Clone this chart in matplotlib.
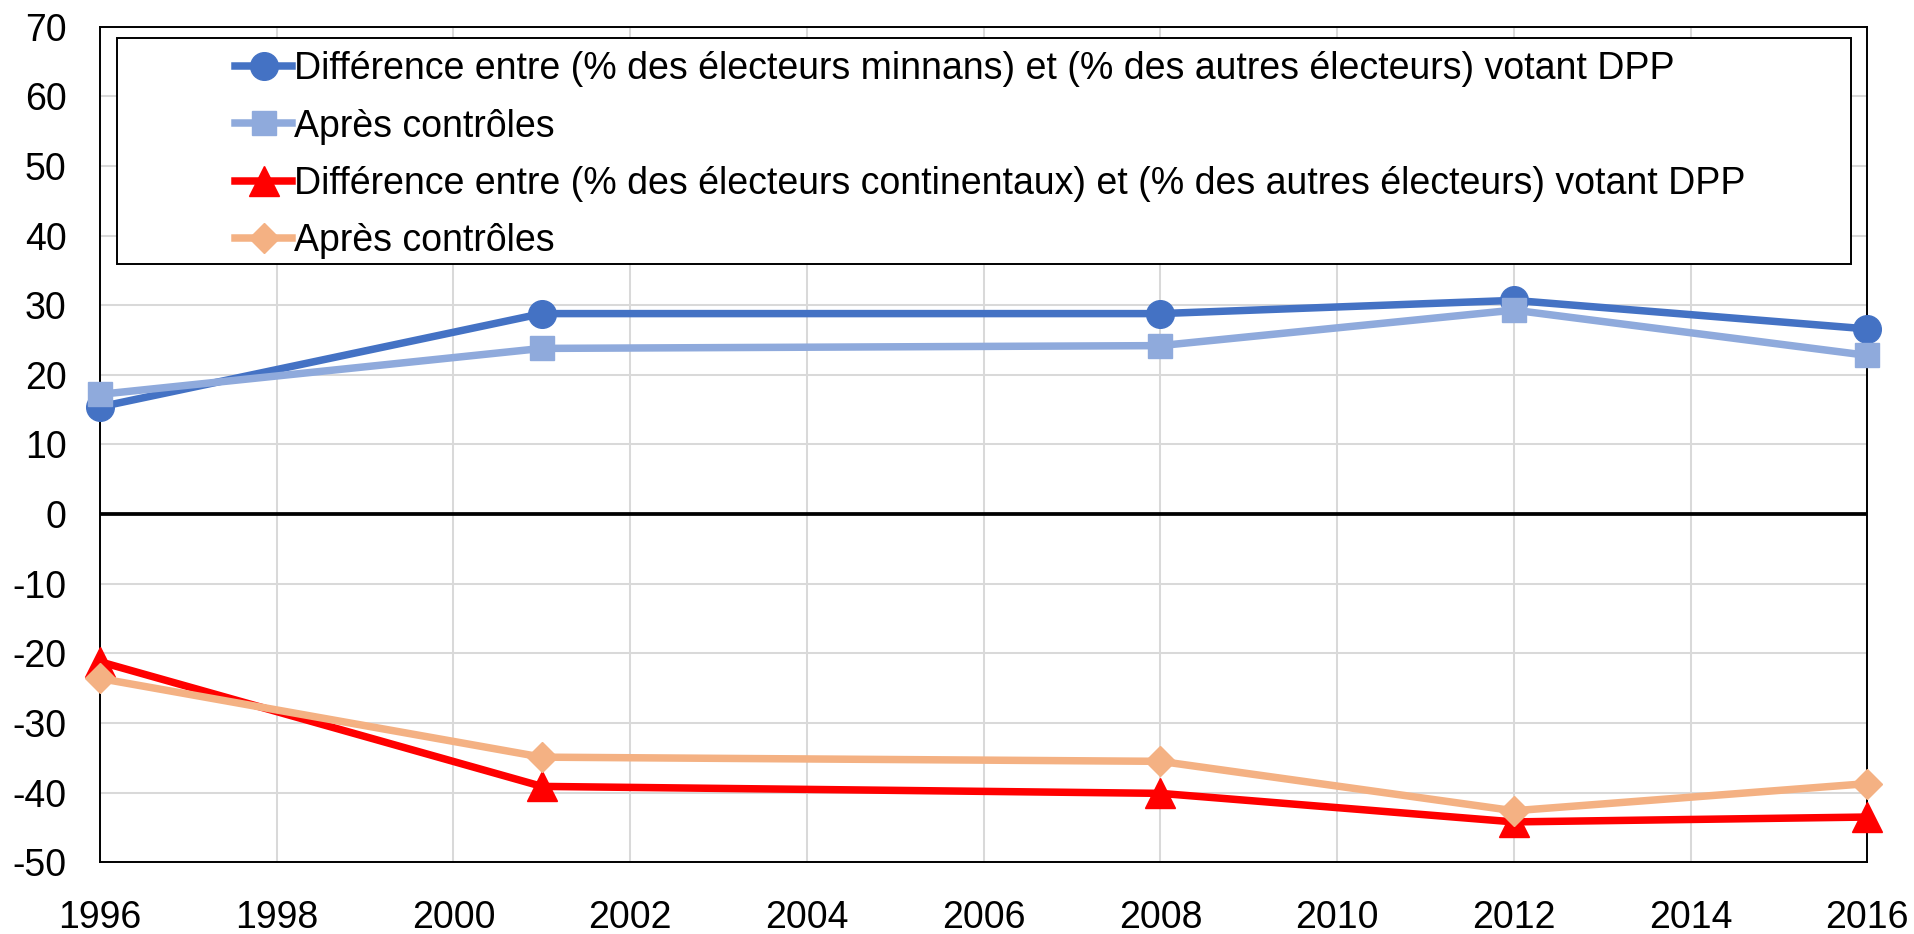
import matplotlib
matplotlib.use("Agg")
import matplotlib.pyplot as plt
from matplotlib.patches import Rectangle

# Data
years = [1996, 2001, 2008, 2012, 2016]
minnan = [15.4, 28.8, 28.8, 30.7, 26.6]
minnan_ctrl = [17.2, 23.8, 24.2, 29.3, 22.8]
cont = [-21.2, -39.1, -40.1, -44.2, -43.5]
cont_ctrl = [-23.6, -34.9, -35.5, -42.6, -38.7]

labels = [
    "Différence entre (% des électeurs minnans) et (% des autres électeurs) votant DPP",
    "Après contrôles",
    "Différence entre (% des électeurs continentaux) et (% des autres électeurs) votant DPP",
    "Après contrôles",
]
xticks = list(range(1996, 2017, 2))
yticks = list(range(-50, 71, 10))

plt.rcParams['font.family'] = ['Liberation Sans', 'DejaVu Sans']
plt.rcParams['axes.unicode_minus'] = False
fs = 27

fig = plt.figure(figsize=(19.15, 9.34), dpi=100)
ax = fig.add_axes([0.05222, 0.07677, 0.92287, 0.89464])

ax.axhline(0, color='black', lw=2.7, zorder=2)

lw = 5.4
ax.plot(years, minnan, color='#4472C4', lw=lw, marker='o', ms=19.9,
        label=labels[0], zorder=3, clip_on=False)
ax.plot(years, minnan_ctrl, color='#8FAADC', lw=lw, marker='s', ms=17.8,
        label=labels[1], zorder=4, clip_on=False)
ax.plot(years, cont, color='#FF0000', lw=lw, marker='^', ms=22.3,
        label=labels[2], zorder=5, clip_on=False)
ax.plot(years, cont_ctrl, color='#F4B183', lw=lw, marker='D', ms=15.5,
        label=labels[3], zorder=6, clip_on=False)

ax.set_xlim(1996, 2016)
ax.set_ylim(-50, 70)
ax.set_xticks(xticks)
ax.set_yticks(yticks)
ax.grid(True, color='#d9d9d9', lw=1.45, zorder=0)
ax.set_axisbelow(True)
ax.tick_params(axis='both', length=0, labelsize=fs, colors='black')
ax.tick_params(axis='y', pad=24)
ax.tick_params(axis='x', pad=27)
for s in ax.spines.values():
    s.set_color('black')
    s.set_linewidth(1.4)

# legend frame
ax.add_patch(Rectangle((0.00945, 0.7157), 0.98125, 0.2711, transform=ax.transAxes,
                       facecolor='white', edgecolor='black', lw=1.4, zorder=7))
leg = ax.legend(loc='upper left', bbox_to_anchor=(0.0764, 0.9707), frameon=False,
                fontsize=fs, borderpad=0, borderaxespad=0, handlelength=1.53,
                handletextpad=0.05, labelspacing=0.57)
leg.set_zorder(8)

fig.savefig("out.png", dpi=100, facecolor='white')
